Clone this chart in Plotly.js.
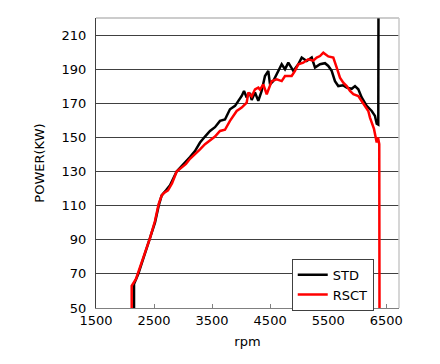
<!DOCTYPE html>
<html>
<head>
<meta charset="utf-8">
<script src="https://cdn.plot.ly/plotly-3.0.1.min.js"></script>
<style>
html,body{margin:0;padding:0;background:#fff;}
#chart{width:440px;height:364px;}
</style>
</head>
<body>
<div id="chart"></div>
<script>
// STD series (black)
var stdRpm = [2155,2155,2229,2327,2430,2516,2580,2632,2706,2775,2890,3033,3119,3205,3292,3378,3464,3550,3636,3722,3808,3895,3951,4010,4050,4096,4153,4182,4239,4296,4354,4411,4468,4498,4554,4640,4699,4756,4813,4899,4985,5044,5130,5216,5273,5359,5445,5502,5560,5617,5674,5760,5819,5905,5962,6019,6077,6163,6250,6306,6336,6363,6367];
var stdPower = [50,64,70,80,90,100,110,116,119,122,130,135,138.5,142,147,150.5,153.8,156,159.7,160.5,166.5,168.5,171.4,174.3,177.2,173.4,176,172,176.3,171.4,177.2,186,189,181.1,183,189,192.9,190,193.8,189,192.9,196.8,194.8,196.8,190.9,192.9,193.5,191.9,189,183,180.1,180.5,179.2,178.5,180.1,178.2,173.4,168.5,165.5,162.6,158,157.5,235];
// RSCT series (red)
var rsctRpm = [2115,2115,2189,2229,2327,2430,2516,2580,2632,2671,2740,2809,2890,2976,3050,3119,3205,3292,3378,3464,3550,3636,3722,3808,3924,4010,4096,4124,4182,4239,4296,4325,4382,4441,4527,4613,4699,4756,4871,4928,4985,5071,5157,5243,5302,5359,5416,5502,5588,5647,5703,5760,5819,5876,5933,6019,6077,6134,6191,6220,6250,6289,6336,6358,6380,6384];
var rsctPower = [50,63,67,71,81,91,101,111,116,117.5,119,123,130,132.4,134.5,137.5,140,143,146,148,150.5,153.8,154.5,159.7,165.5,167.5,170.4,176.3,174,178.2,179.2,178,181.1,175.3,183,184,183,186,186,189,192.9,193.8,195.8,195,196.8,197.7,199.7,197.5,196.8,190.9,185,182.1,180.1,177.2,175.3,174.3,171.4,168.5,165.5,161.6,158.7,155,147,150,146,50];

var yTicks = [50,70,90,110,130,150,170,190,210];
var xTicks = [1500,2500,3500,4500,5500,6500];

var font = "DejaVu Sans, Verdana, sans-serif";

var traces = [
  {x: stdRpm, y: stdPower, type: 'scatter', mode: 'lines', name: 'STD',
   line: {color: '#000000', width: 2.5}},
  {x: rsctRpm, y: rsctPower, type: 'scatter', mode: 'lines', name: 'RSCT',
   line: {color: '#ff0000', width: 2.5}}
];

var layout = {
  width: 440, height: 364,
  margin: {l: 96, r: 41, t: 18, b: 56, pad: 0},
  paper_bgcolor: '#ffffff', plot_bgcolor: '#ffffff',
  font: {family: font, size: 13, color: '#000'},
  showlegend: true,
  legend: {x: 0.646, y: 0.17, xanchor: 'left', yanchor: 'top',
           bgcolor: '#ffffff', bordercolor: '#404040', borderwidth: 1,
           font: {family: font, size: 13, color: '#000'},
           tracegroupgap: 0, itemwidth: 30},
  xaxis: {
    range: [1500, 6720], tickvals: xTicks, ticktext: xTicks.map(String),
    showgrid: false, zeroline: false,
    showline: true, linecolor: '#808080', linewidth: 1,
    ticks: 'inside', ticklen: 4, tickcolor: '#808080',
    tickfont: {family: font, size: 13, color: '#000'},
    title: {text: 'rpm', font: {family: font, size: 13, color: '#000'}, standoff: 10}
  },
  yaxis: {
    range: [50, 220], tickvals: yTicks, ticktext: yTicks.map(String),
    showgrid: true, gridcolor: '#404040', gridwidth: 1, zeroline: false,
    showline: true, linecolor: '#404040', linewidth: 1,
    ticks: '', ticklabelstandoff: 6,
    tickfont: {family: font, size: 13, color: '#000'},
    title: {text: 'POWER(KW)', font: {family: font, size: 13, color: '#000'}, standoff: 14}
  },
  shapes: [
    {type: 'line', xref: 'paper', yref: 'paper', x0: 0, x1: 1, y0: 1, y1: 1,
     line: {color: '#999999', width: 1}},
    {type: 'line', xref: 'paper', yref: 'paper', x0: 1, x1: 1, y0: 0, y1: 1,
     line: {color: '#c8c8c8', width: 1.5}}
  ]
};

Plotly.newPlot('chart', traces, layout, {displayModeBar: false, staticPlot: true});
</script>
</body>
</html>
